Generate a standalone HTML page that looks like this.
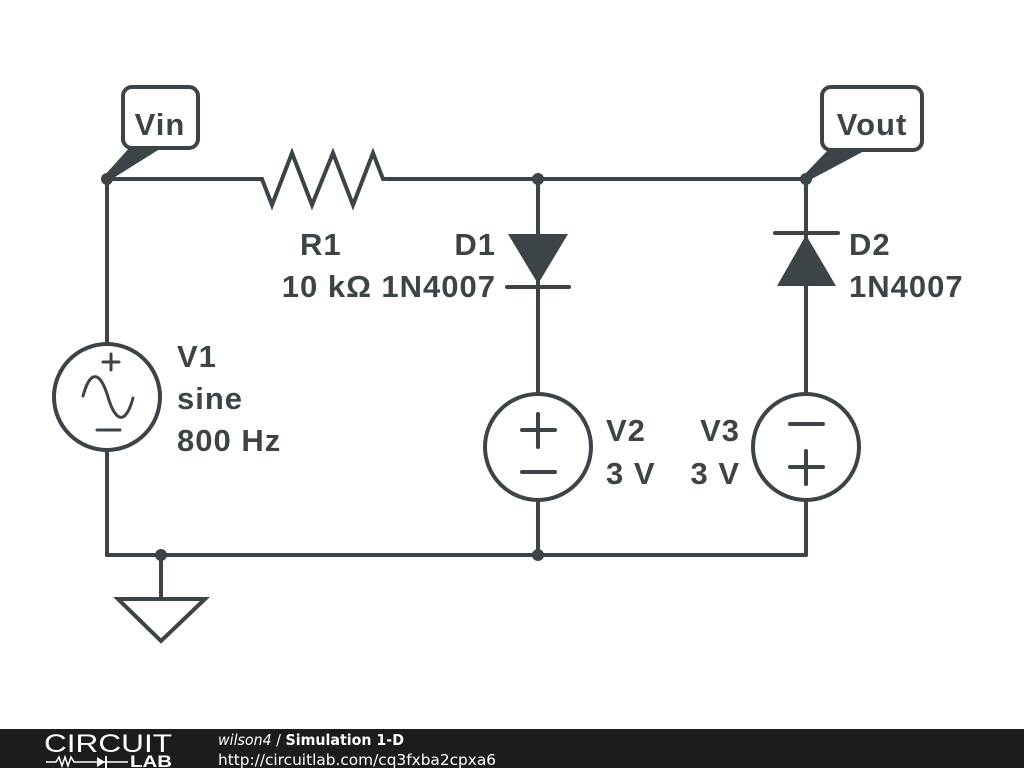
<!DOCTYPE html>
<html><head><meta charset="utf-8"><style>
html,body{margin:0;padding:0;background:#fff;width:1024px;height:768px;overflow:hidden}
svg{display:block}
.t{font-family:"Liberation Sans",Arial,sans-serif;font-weight:bold;font-size:31px;letter-spacing:1px;fill:#3c4448}
</style></head><body>
<svg width="1024" height="768" viewBox="0 0 1024 768" xmlns="http://www.w3.org/2000/svg">
<rect width="1024" height="768" fill="#fff"/>
<g stroke="#3c4448" stroke-width="4" fill="none" stroke-linecap="round" stroke-linejoin="miter">
  <polyline points="107,179 262,179 272,205 292,153 312,205 333,153 353,205 373,153 383,179 806,179"/>
  <line x1="107" y1="179" x2="107" y2="344"/>
  <line x1="107" y1="450" x2="107" y2="555"/>
  <line x1="107" y1="555" x2="806" y2="555"/>
  <line x1="538" y1="179" x2="538" y2="394"/>
  <line x1="538" y1="500" x2="538" y2="555"/>
  <line x1="507" y1="287" x2="569" y2="287"/>
  <line x1="806" y1="179" x2="806" y2="394"/>
  <line x1="806" y1="500" x2="806" y2="555"/>
  <line x1="775" y1="233" x2="838" y2="233"/>
  <circle cx="107" cy="397" r="53"/>
  <circle cx="538" cy="447" r="53"/>
  <circle cx="806" cy="447" r="53"/>
  <g stroke-width="3">
  <line x1="103" y1="362" x2="119" y2="362"/><line x1="111" y1="354" x2="111" y2="370"/>
  <line x1="97" y1="430" x2="120" y2="430"/>
  <path d="M83,396 C90,370 100,370 108,397 C116,424 126,424 133,398"/>
  </g>
  <line x1="522" y1="430" x2="555" y2="430"/><line x1="538" y1="414" x2="538" y2="447"/>
  <line x1="522" y1="472" x2="555" y2="472"/>
  <line x1="790" y1="424" x2="823" y2="424"/>
  <line x1="790" y1="467" x2="823" y2="467"/><line x1="806" y1="451" x2="806" y2="484"/>
  <line x1="161" y1="555" x2="161" y2="599"/>
  <polygon points="118,599 205,599 161,641"/>
  <rect x="123" y="87" width="75" height="61" rx="9"/>
  <rect x="822" y="87" width="100" height="63" rx="9"/>
</g>
<g fill="#3c4448">
  <polygon points="508,234 568,234 538,284"/>
  <polygon points="777,286 836,286 806,235"/>
  <circle cx="107" cy="179" r="6"/>
  <circle cx="538" cy="179" r="6"/>
  <circle cx="806" cy="179" r="6"/>
  <circle cx="161" cy="555" r="6"/>
  <circle cx="538" cy="555" r="6"/>
  <polygon points="130,147 163,147 107,182 104,176"/>
  <polygon points="829,149 868,149 806,182 803,176"/>
</g>
<text class="t" x="160" y="135" text-anchor="middle">Vin</text>
<text class="t" x="872" y="135" text-anchor="middle">Vout</text>
<text class="t" x="300" y="255">R1</text>
<text class="t" x="372" y="297" text-anchor="end">10 kΩ</text>
<text class="t" x="496" y="255" text-anchor="end">D1</text>
<text class="t" x="496" y="297" text-anchor="end">1N4007</text>
<text class="t" x="849" y="255">D2</text>
<text class="t" x="849" y="297">1N4007</text>
<text class="t" x="177" y="367">V1</text>
<text class="t" x="177" y="409">sine</text>
<text class="t" x="177" y="451">800 Hz</text>
<text class="t" x="606" y="441">V2</text>
<text class="t" x="606" y="484">3 V</text>
<text class="t" x="740" y="441" text-anchor="end">V3</text>
<text class="t" x="740" y="484" text-anchor="end">3 V</text>
<rect x="0" y="729" width="1024" height="39" fill="#1c1c1c"/>
<text x="44" y="752" font-family="Liberation Sans,sans-serif" font-size="25" fill="#fff" textLength="128" lengthAdjust="spacingAndGlyphs">CIRCUIT</text>
<g stroke="#fff" stroke-width="1.5" fill="none">
  <polyline points="46,762 56,762 59,757 62,766 65,757 68,766 71,757 74,762 82,762"/>
  <line x1="82" y1="762" x2="128" y2="762"/>
</g>
<polygon points="97,757 97,767 105,762" fill="#fff"/>
<line x1="106" y1="756" x2="106" y2="768" stroke="#fff" stroke-width="2"/>
<text x="130" y="767" font-family="Liberation Sans,sans-serif" font-weight="bold" font-size="17" fill="#fff" textLength="42" lengthAdjust="spacingAndGlyphs">LAB</text>
<text x="218" y="745" font-family="DejaVu Sans,sans-serif" font-size="15" fill="#fff" textLength="186" lengthAdjust="spacingAndGlyphs"><tspan font-style="italic">wilson4</tspan> / <tspan font-weight="bold">Simulation 1-D</tspan></text>
<text x="218" y="765" font-family="DejaVu Sans,sans-serif" font-size="15" fill="#fff" textLength="278" lengthAdjust="spacingAndGlyphs">http://circuitlab.com/cq3fxba2cpxa6</text>
</svg>
</body></html>
